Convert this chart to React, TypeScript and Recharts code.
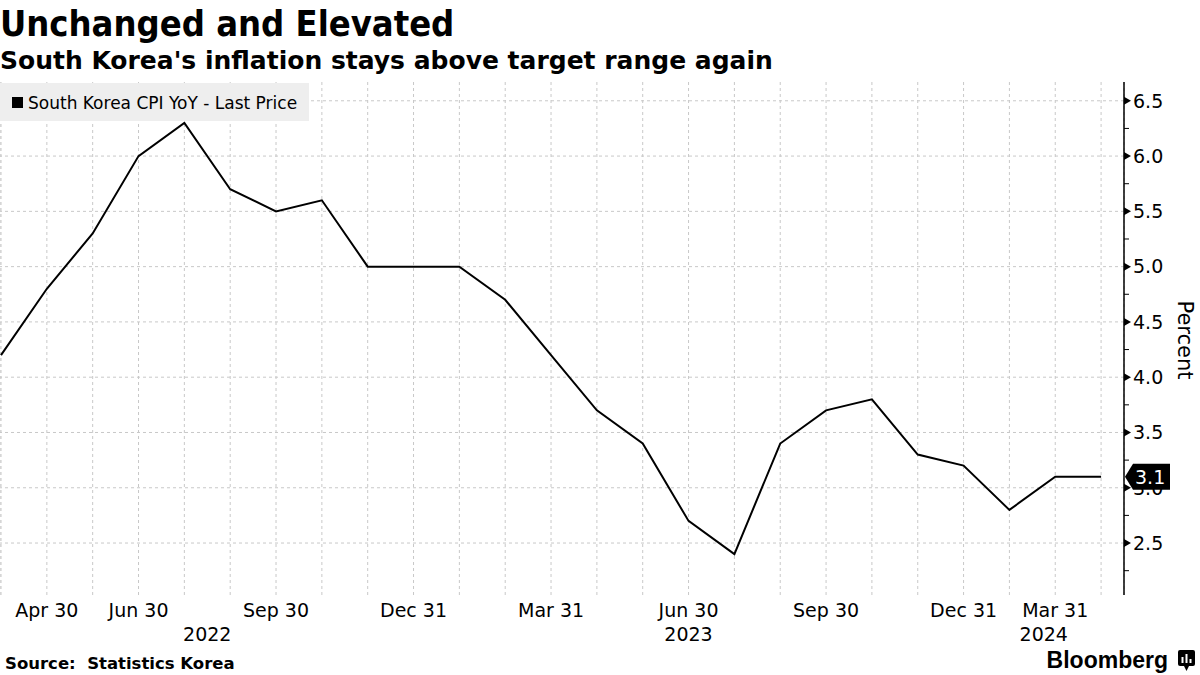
import React from 'react';
import { LineChart, Line, XAxis, YAxis, CartesianGrid, ReferenceLine, ReferenceArea } from 'recharts';

// South Korea CPI YoY, monthly, Mar 2022 .. Mar 2024
const cpiYoY = [4.2, 4.8, 5.3, 6.0, 6.3, 5.7, 5.5, 5.6, 5.0, 5.0, 5.0, 4.7, 4.2, 3.7, 3.4, 2.7, 2.4, 3.4, 3.7, 3.8, 3.3, 3.2, 2.8, 3.1, 3.1];

const monthLabels = [
  '', 'Apr 30', '', 'Jun 30', '', '', 'Sep 30', '', '', 'Dec 31', '', '', 'Mar 31',
  '', '', 'Jun 30', '', '', 'Sep 30', '', '', 'Dec 31', '', 'Mar 31', '',
];

const yearSpans = [
  { label: '2022', from: 0, to: 9 },
  { label: '2023', from: 9, to: 21 },
  { label: '2024', from: 21, to: 24.5 },
];

const majorTicks = [2.5, 3.0, 3.5, 4.0, 4.5, 5.0, 5.5, 6.0, 6.5];
const minorTicks = [2.25, 2.75, 3.25, 3.75, 4.25, 4.75, 5.25, 5.75, 6.25];

const seriesName = 'South Korea CPI YoY - Last Price';
const title = 'Unchanged and Elevated';
const subtitle = "South Korea's inflation stays above target range again";
const source = 'Source:  Statistics Korea';

const lastValue = cpiYoY[cpiYoY.length - 1];
const data = cpiYoY.map((v, i) => ({ i, v }));
const xTicks = cpiYoY.map((_, i) => i);
const yTicks = [...minorTicks, ...majorTicks, lastValue];

const tickFont = "'DejaVu Sans', sans-serif";
const headFont = "'DejaVu Sans Condensed', 'DejaVu Sans', sans-serif";
const gridColor = '#c8c8c8';

function MonthTick({ x, y, payload }: any) {
  const label = monthLabels[payload.value];
  if (!label) return <g />;
  return (
    <text x={x} y={y} dy={22} textAnchor="middle" fontSize={19} fontFamily={tickFont} fill="#000">
      {label}
    </text>
  );
}

function ValueTick({ x, y, payload, index }: any) {
  const v = payload.value;
  if (index === yTicks.length - 1) {
    return (
      <g>
        <path d={`M${x + 1},${y} L${x + 9},${y - 13} L${x + 46},${y - 13} L${x + 46},${y + 13} L${x + 9},${y + 13} Z`} fill="#000" />
        <text x={x + 11} y={y} dy="0.36em" fontSize={19} fontFamily={tickFont} fill="#fff">
          {v.toFixed(1)}
        </text>
      </g>
    );
  }
  if (!majorTicks.includes(v)) {
    return <line x1={x} x2={x + 5} y1={y} y2={y} stroke="#000" strokeWidth={1} />;
  }
  return (
    <g>
      <path d={`M${x},${y - 4} L${x + 7},${y} L${x},${y + 4} Z`} fill="#000" />
      <text x={x + 9} y={y} dy="0.36em" fontSize={19} fontFamily={tickFont} fill="#000">
        {v.toFixed(1)}
      </text>
    </g>
  );
}

export default function App() {
  return (
    <div style={{ position: 'absolute', left: 0, top: 0, width: 1200, height: 675, background: '#fff', overflow: 'hidden' }}>
      <div style={{ position: 'absolute', left: 0, top: 0 }}>
        <LineChart width={1200} height={675} data={data} margin={{ top: 82, right: 0, bottom: 0, left: 0 }}>
          <CartesianGrid horizontal={false} stroke={gridColor} strokeDasharray="3 3" />
          {majorTicks.map(t => (
            <ReferenceLine key={t} y={t} stroke={gridColor} strokeDasharray="3 3" />
          ))}
          {yearSpans.map(s => (
            <ReferenceArea
              key={s.label}
              x1={s.from}
              x2={s.to}
              fill="none"
              stroke="none"
              label={{ value: s.label, position: 'bottom', offset: 33, fill: '#000', fontSize: 19, fontFamily: tickFont }}
            />
          ))}
          <XAxis
            dataKey="i"
            type="number"
            domain={[-0.022, 24.5]}
            allowDataOverflow
            ticks={xTicks}
            interval={0}
            axisLine={false}
            tickLine={false}
            tickSize={0}
            tickMargin={0}
            height={80}
            tick={<MonthTick />}
          />
          <YAxis
            orientation="right"
            type="number"
            domain={[2.03, 6.67]}
            allowDataOverflow
            ticks={yTicks}
            interval={0}
            width={76}
            tickLine={false}
            tickSize={0}
            tickMargin={0}
            axisLine={{ stroke: '#000', strokeWidth: 1.5 }}
            tick={<ValueTick />}
          />
          <Line
            type="linear"
            dataKey="v"
            stroke="#000"
            strokeWidth={2}
            dot={false}
            activeDot={false}
            isAnimationActive={false}
          />
        </LineChart>
      </div>
      <svg width={1200} height={675} style={{ position: 'absolute', left: 0, top: 0, pointerEvents: 'none' }}>
        <text x={0} y={36} fontSize={36} fontWeight="bold" fontFamily={headFont} fill="#000">{title}</text>
        <text x={0} y={69} fontSize={25} fontWeight="bold" fontFamily={tickFont} fill="#000">{subtitle}</text>

        <rect x={0} y={83} width={309} height={38} fill="#eeeeee" />
        <rect x={12} y={97} width={11} height={11} fill="#000" />
        <text x={28} y={109} fontSize={17} fontFamily={tickFont} fill="#000">{seriesName}</text>

        <text x={1185} y={340} fontSize={21} fontFamily={tickFont} fill="#000" textAnchor="middle" dominantBaseline="central" transform="rotate(90 1185 340)">
          Percent
        </text>

        <text x={5} y={669} fontSize={16.5} fontWeight="bold" fontFamily={tickFont} fill="#000" style={{ whiteSpace: 'pre' }}>{source}</text>

        <text x={1168} y={668} fontSize={23} fontWeight="bold" fontFamily="'Liberation Sans', Arial, sans-serif" fill="#000" textAnchor="end">Bloomberg</text>
        <g>
          <rect x={1178} y={650} width={17} height={16} rx={2} fill="#000" />
          <path d="M1184,666 L1186.5,671 L1189,666 Z" fill="#000" />
          <rect x={1181.5} y={657} width={2} height={6} fill="#fff" />
          <rect x={1185.5} y={654} width={2} height={9} fill="#fff" />
          <rect x={1189.5} y={659} width={2} height={4} fill="#fff" />
        </g>
      </svg>
    </div>
  );
}
